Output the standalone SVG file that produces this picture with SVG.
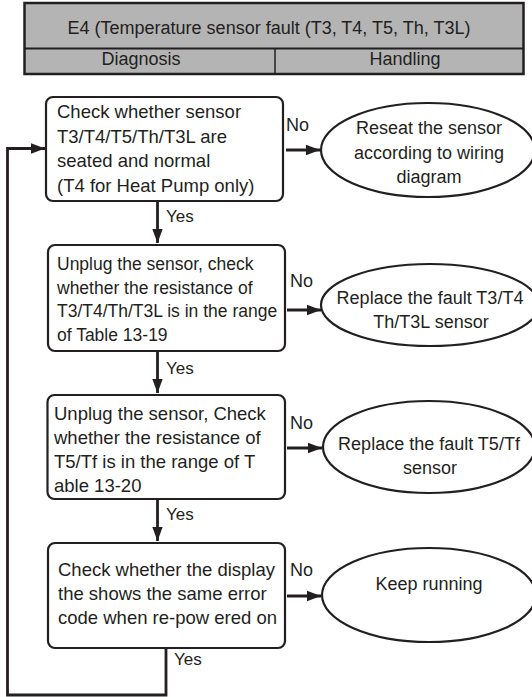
<svg xmlns="http://www.w3.org/2000/svg" width="532" height="697" viewBox="0 0 532 697">
<defs>
<style>
text{font-family:"Liberation Sans",Arial,sans-serif;fill:#231f20;font-size:18.5px}
.hd{font-size:18px}
.el{font-size:18px;text-anchor:middle}
.lb{font-size:18px}
.ys{font-size:17px}
.box{fill:#fff;stroke:#231f20;stroke-width:2.2}
.ell{fill:#fff;stroke:#231f20;stroke-width:2.2}
.con{fill:none;stroke:#231f20;stroke-width:2.8}
</style>
<marker id="ah" markerUnits="userSpaceOnUse" markerWidth="16" markerHeight="12" refX="14" refY="6" orient="auto">
<path d="M0,0.8 L14,6 L0,11.2 Z" fill="#231f20"/>
</marker>
</defs>
<rect width="532" height="697" fill="#fff"/>
<g id="header">
<rect x="24.5" y="3" width="499" height="71" fill="#b4b4b4" stroke="#231f20" stroke-width="2.5"/>
<line x1="24.5" y1="48.5" x2="523.5" y2="48.5" stroke="#231f20" stroke-width="1.8"/>
<line x1="275" y1="48.5" x2="275" y2="74" stroke="#231f20" stroke-width="1.5"/>
<text class="hd" x="269" y="34" text-anchor="middle">E4 (Temperature sensor fault (T3, T4, T5, Th, T3L)</text>
<text class="hd" x="141" y="64.5" text-anchor="middle">Diagnosis</text>
<text class="hd" x="405" y="64.5" text-anchor="middle">Handling</text>
</g>
<g id="connectors">
<path class="con" d="M157.5,201 V243" marker-end="url(#ah)"/>
<path class="con" d="M157.5,351 V393" marker-end="url(#ah)"/>
<path class="con" d="M157.5,499 V541" marker-end="url(#ah)"/>
<path class="con" d="M286,150 H320" marker-end="url(#ah)"/>
<path class="con" d="M287,310 H321" marker-end="url(#ah)"/>
<path class="con" d="M287,448 H322" marker-end="url(#ah)"/>
<path class="con" d="M287,596 H321" marker-end="url(#ah)"/>
<path class="con" d="M166,648 V695 H7.5 V148.5 H45" marker-end="url(#ah)"/>
<text class="ys" x="166" y="222">Yes</text>
<text class="ys" x="166" y="374">Yes</text>
<text class="ys" x="166" y="520">Yes</text>
<text class="ys" x="174" y="665">Yes</text>
<text class="lb" x="286" y="131">No</text>
<text class="lb" x="290" y="287">No</text>
<text class="lb" x="290" y="429">No</text>
<text class="lb" x="290" y="576">No</text>
</g>
<g id="box1">
<rect class="box" x="46" y="97" width="237" height="104" rx="7"/>
<text x="57" y="118">Check whether sensor</text>
<text x="57" y="142.5">T3/T4/T5/Th/T3L are</text>
<text x="57" y="167">seated and normal</text>
<text x="57" y="191.5">(T4 for Heat Pump only)</text>
</g>
<g id="box2">
<rect class="box" x="48" y="245" width="237" height="106" rx="7"/>
<text x="57" y="269.5" style="font-size:17.5px">Unplug the sensor, check</text>
<text x="57" y="293.5" style="font-size:17.5px">whether the resistance of</text>
<text x="57" y="317" style="font-size:17.5px">T3/T4/Th/T3L is in the range</text>
<text x="57" y="340.5" style="font-size:17.5px">of Table 13-19</text>
</g>
<g id="box3">
<rect class="box" x="47.5" y="395" width="237.5" height="104" rx="7"/>
<text x="54" y="420">Unplug the sensor, Check</text>
<text x="54" y="444">whether the resistance of</text>
<text x="54" y="468">T5/Tf is in the range of T</text>
<text x="54" y="491.5">able 13-20</text>
</g>
<g id="box4">
<rect class="box" x="48" y="543" width="237" height="105" rx="7"/>
<text x="58" y="576">Check whether the display</text>
<text x="58" y="600">the shows the same error</text>
<text x="58" y="624">code when re-pow ered on</text>
</g>
<g id="ell1">
<ellipse class="ell" cx="428" cy="150" rx="107" ry="47"/>
<text class="el" x="429" y="134">Reseat the sensor</text>
<text class="el" x="429" y="158.5">according to wiring</text>
<text class="el" x="429" y="183">diagram</text>
</g>
<g id="ell2">
<ellipse class="ell" cx="430" cy="305" rx="109" ry="41"/>
<text class="el" x="430" y="304">Replace the fault T3/T4</text>
<text class="el" x="431" y="328">Th/T3L sensor</text>
</g>
<g id="ell3">
<ellipse class="ell" cx="429" cy="447" rx="106" ry="46"/>
<text class="el" x="429" y="450">Replace the fault T5/Tf</text>
<text class="el" x="430" y="474">sensor</text>
</g>
<g id="ell4">
<ellipse class="ell" cx="429" cy="595" rx="107" ry="47"/>
<text class="el" x="429" y="590">Keep running</text>
</g>
</svg>
